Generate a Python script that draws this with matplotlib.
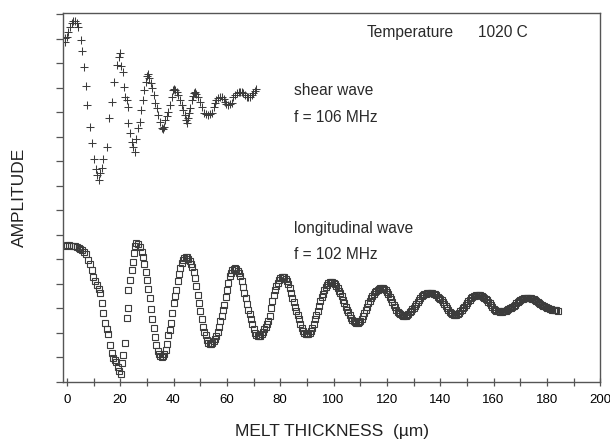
import numpy as np
import matplotlib
matplotlib.use("Agg")
import matplotlib.pyplot as plt
from matplotlib.ticker import MultipleLocator, NullFormatter

plt.rcParams['font.family'] = ['Liberation Sans', 'DejaVu Sans']

# shear wave, f = 106 MHz
shear_x = [-0.8, -0.5, 0.0, 0.4, 1.1, 1.9, 2.3, 3.0, 3.7, 4.1, 5.2, 5.6, 6.4, 7.3, 7.6,
           8.6, 9.4, 10.1, 10.9, 11.3, 12.0, 12.4, 13.1, 13.5, 15.0, 15.8, 16.9, 17.6,
           18.8, 19.5, 19.9, 20.4, 20.9, 21.4, 21.8, 22.5, 22.9, 22.9, 23.6, 24.4, 24.8,
           25.5, 26.0, 26.6, 27.4, 27.8, 28.5, 28.9, 29.6, 30.0, 30.4, 30.8, 31.4, 31.9,
           32.6, 33.0, 33.8, 34.1, 34.9, 35.6, 36.0, 36.4, 36.8, 37.4, 37.9, 38.6, 39.4,
           39.8, 40.2, 40.7, 41.3, 41.8, 42.4, 43.0, 43.5, 44.3, 44.7, 45.0, 45.4, 45.8,
           46.2, 46.9, 47.3, 47.7, 48.0, 48.6, 49.2, 50.0, 50.7, 51.4, 52.2, 52.9, 53.6,
           54.4, 55.0, 55.5, 56.1, 56.7, 57.4, 58.2, 58.8, 59.3, 59.8, 60.4, 61.1, 61.9,
           62.3, 63.0, 63.8, 64.4, 64.9, 65.5, 66.0, 66.7, 67.5, 68.1, 68.7, 69.3, 69.8,
           70.4, 70.9]
shear_y = [14.04, 13.88, 14.08, 14.29, 14.49, 14.65, 14.72, 14.72, 14.65, 14.49, 13.96,
           13.51, 12.86, 12.08, 11.31, 10.41, 9.76, 9.10, 8.69, 8.45, 8.24, 8.53, 8.73,
           9.10, 9.59, 10.78, 11.43, 12.24, 12.94, 13.27, 13.43, 12.90, 12.65, 12.04,
           11.63, 11.51, 11.22, 10.57, 10.16, 9.80, 9.59, 9.39, 9.90, 10.37, 10.60, 11.10,
           11.50, 11.90, 12.24, 12.49, 12.55, 12.40, 12.20, 12.00, 11.71, 11.39, 11.18,
           10.90, 10.61, 10.37, 10.30, 10.40, 10.69, 10.85, 11.02, 11.31, 11.63, 11.92,
           11.96, 11.92, 11.84, 11.70, 11.51, 11.30, 11.10, 10.90, 10.70, 10.57, 10.78,
           10.95, 11.18, 11.51, 11.65, 11.80, 11.84, 11.75, 11.63, 11.40, 11.22, 10.98,
           10.92, 10.90, 10.92, 10.98, 11.20, 11.39, 11.50, 11.59, 11.62, 11.63, 11.55,
           11.43, 11.35, 11.31, 11.33, 11.39, 11.63, 11.72, 11.80, 11.83, 11.84, 11.82,
           11.80, 11.70, 11.63, 11.62, 11.63, 11.70, 11.80, 11.88, 11.96]

# longitudinal wave, f = 102 MHz
long_x_early = [-0.5, 0.2, 0.9, 1.6, 2.3, 3.0, 3.7, 4.4, 5.1, 5.8, 6.5, 7.2, 7.9, 8.6,
                9.4, 9.8, 10.5, 11.3, 12.0, 12.4, 13.1, 13.5, 14.3, 15.0, 15.4, 16.1,
                16.9, 17.3, 17.9, 18.4, 19.1, 19.7, 20.3, 20.6, 21.0, 21.8, 22.5, 22.9,
                22.9, 23.6, 24.4, 24.8, 25.1, 25.5, 26.0, 26.6, 27.3]
long_y_early = [5.55, 5.58, 5.58, 5.56, 5.55, 5.53, 5.50, 5.47, 5.43, 5.37, 5.30, 5.20,
                4.98, 4.80, 4.57, 4.29, 4.12, 3.96, 3.80, 3.63, 3.22, 2.82, 2.41, 2.15,
                1.96, 1.51, 1.18, 0.98, 0.90, 0.82, 0.61, 0.45, 0.33, 0.78, 1.10, 1.59,
                2.61, 3.02, 3.76, 4.16, 4.57, 4.90, 5.27, 5.55, 5.65, 5.63, 5.50]
# from 28 um on, one reading every 0.5 um
long_x_late = np.arange(28, 184.25, 0.5)
long_y_late = [
    5.30, 5.08, 4.80, 4.50, 4.16, 3.80, 3.40, 2.98, 2.55, 2.18, 1.84, 1.52, 1.25, 1.12, 1.05, 1.02, 1.05, 1.15, 1.30, 1.55,
    1.90, 2.12, 2.40, 2.80, 3.20, 3.50, 3.75, 4.10, 4.40, 4.65, 4.85, 4.98, 5.06, 5.09, 5.10, 5.03, 4.92, 4.82, 4.70, 4.50,
    4.25, 3.92, 3.55, 3.20, 2.90, 2.58, 2.25, 2.05, 1.90, 1.72, 1.60, 1.55, 1.55, 1.58, 1.65, 1.74, 1.85, 2.03, 2.25, 2.47,
    2.70, 2.92, 3.15, 3.45, 3.76, 4.05, 4.30, 4.45, 4.55, 4.62, 4.65, 4.60, 4.52, 4.42, 4.30, 4.10, 3.85, 3.62, 3.40, 3.17,
    2.95, 2.75, 2.55, 2.35, 2.15, 2.00, 1.90, 1.86, 1.85, 1.88, 1.95, 2.05, 2.15, 2.24, 2.35, 2.50, 2.70, 3.00, 3.30, 3.55,
    3.76, 3.92, 4.05, 4.16, 4.25, 4.28, 4.29, 4.26, 4.20, 4.12, 4.00, 3.82, 3.62, 3.44, 3.25, 3.07, 2.90, 2.72, 2.55, 2.37,
    2.20, 2.09, 2.00, 1.96, 1.95, 1.95, 1.98, 2.08, 2.20, 2.37, 2.55, 2.72, 2.90, 3.10, 3.30, 3.46, 3.60, 3.73, 3.85, 3.95,
    4.04, 4.07, 4.08, 4.07, 4.05, 3.99, 3.92, 3.83, 3.72, 3.62, 3.50, 3.35, 3.20, 3.07, 2.95, 2.83, 2.72, 2.61, 2.52, 2.47,
    2.43, 2.41, 2.40, 2.44, 2.50, 2.58, 2.68, 2.81, 2.95, 3.07, 3.20, 3.31, 3.42, 3.52, 3.60, 3.67, 3.72, 3.76, 3.80, 3.83,
    3.84, 3.82, 3.78, 3.73, 3.66, 3.57, 3.48, 3.37, 3.25, 3.15, 3.05, 2.95, 2.85, 2.79, 2.75, 2.72, 2.70, 2.69, 2.70, 2.73,
    2.78, 2.84, 2.90, 2.96, 3.02, 3.10, 3.18, 3.27, 3.35, 3.43, 3.50, 3.54, 3.58, 3.60, 3.62, 3.63, 3.63, 3.64, 3.63, 3.60,
    3.57, 3.53, 3.48, 3.43, 3.38, 3.32, 3.25, 3.18, 3.10, 3.02, 2.94, 2.86, 2.80, 2.76, 2.74, 2.73, 2.74, 2.77, 2.82, 2.88,
    2.95, 3.00, 3.06, 3.13, 3.20, 3.28, 3.35, 3.40, 3.45, 3.49, 3.52, 3.54, 3.55, 3.56, 3.55, 3.52, 3.48, 3.43, 3.38, 3.33,
    3.27, 3.20, 3.12, 3.05, 2.98, 2.93, 2.90, 2.88, 2.87, 2.86, 2.86, 2.87, 2.88, 2.90, 2.93, 2.96, 3.00, 3.03, 3.06, 3.10,
    3.15, 3.20, 3.25, 3.29, 3.33, 3.36, 3.38, 3.40, 3.42, 3.43, 3.43, 3.43, 3.42, 3.39, 3.36, 3.32, 3.28, 3.25, 3.22, 3.18,
    3.15, 3.11, 3.08, 3.05, 3.02, 3.00, 2.98, 2.96, 2.94, 2.93, 2.92, 2.91, 2.90]
long_x = list(long_x_early) + list(long_x_late)
long_y = long_y_early + long_y_late

x_ticks = [0, 20, 40, 60, 80, 100, 120, 140, 160, 180, 200]

ink = '#3c3c3c'
fig = plt.figure(figsize=(6.10, 4.44), dpi=100)
ax = fig.add_axes([0.103, 0.140, 0.881, 0.831])

ax.plot(shear_x, shear_y, linestyle='none', marker='+', markersize=6,
        markeredgewidth=0.75, color=ink)
ax.plot(long_x, long_y, linestyle='none', marker='s', markersize=4.6,
        markerfacecolor='none', markeredgewidth=0.8, markeredgecolor=ink)

ax.set_xlim(-1.5, 200)
ax.set_ylim(0, 15.05)
ax.set_xticks(x_ticks)
ax.xaxis.set_minor_locator(MultipleLocator(10))
ax.yaxis.set_major_locator(MultipleLocator(1))
ax.yaxis.set_major_formatter(NullFormatter())
ax.tick_params(axis='x', which='both', direction='inout', length=6, width=0.9,
               color='#555555', labelsize=9.5, pad=6)
ax.tick_params(axis='y', which='major', direction='out', length=5, width=0.9,
               color='#555555')
for s in ax.spines.values():
    s.set_color('#555555')
    s.set_linewidth(1.0)

ax.set_xlabel('MELT THICKNESS  (\u00b5m)', fontsize=12.5, labelpad=13, color='#222222')
ax.set_ylabel('AMPLITUDE', fontsize=12.5, labelpad=17, color='#222222')

txt = dict(fontsize=11.2, color='#2a2a2a', va='center', ha='left')
ax.text(112.5, 14.24, 'Temperature', **txt)
ax.text(154.2, 14.24, '1020 C', **txt)
ax.text(85, 11.9, 'shear wave', **txt)
ax.text(85, 10.78, 'f = 106 MHz', **txt)
ax.text(85, 6.24, 'longitudinal wave', **txt)
ax.text(85, 5.18, 'f = 102 MHz', **txt)

fig.savefig('out.png', dpi=100)
